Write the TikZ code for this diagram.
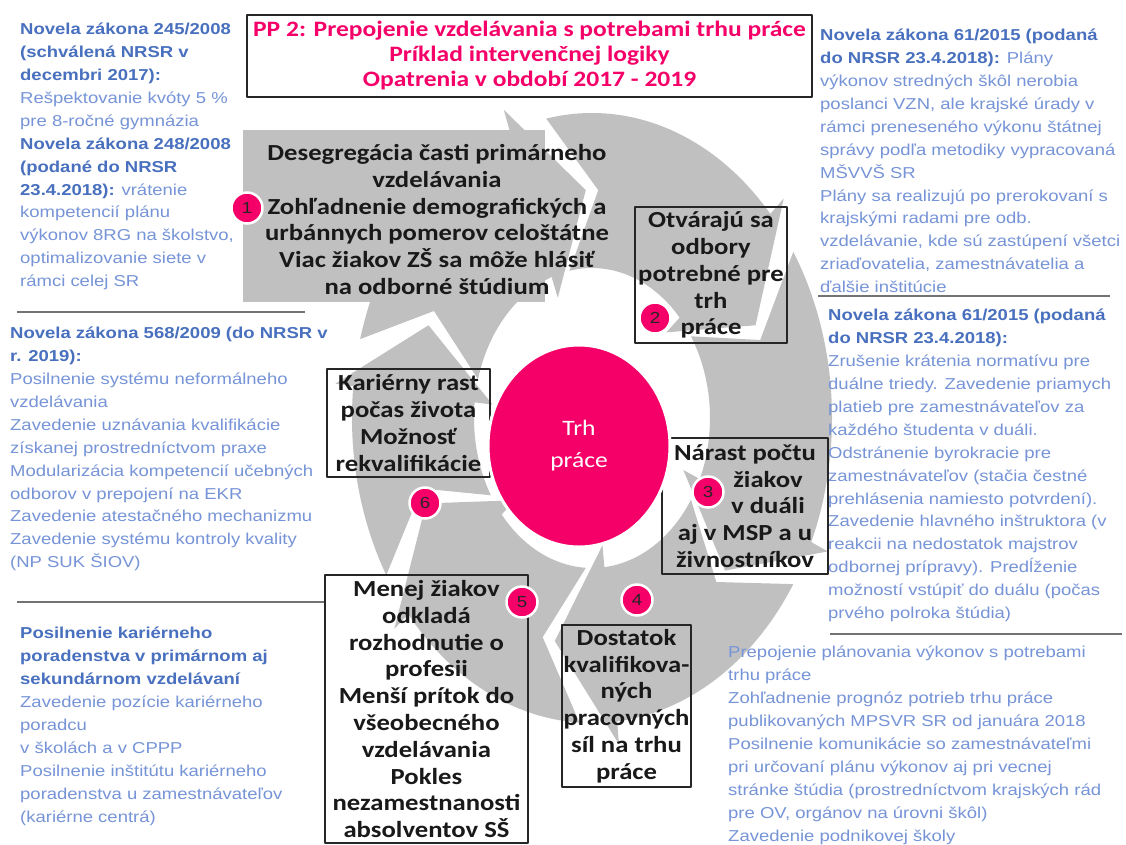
\documentclass[tikz,border=0pt]{standalone}
\usepackage{fontspec}
\setmainfont{Carlito}[FakeStretch=1.16]
\newfontfamily\arialfont{Liberation Sans}[FakeStretch=1.17]
\usetikzlibrary{shapes.geometric}

\definecolor{pinkred}{RGB}{245,0,105}
\definecolor{headblue}{RGB}{72,112,190}
\definecolor{bodyblue}{RGB}{118,148,215}
\definecolor{swirlgray}{RGB}{192,192,192}

\newcommand{\hd}[1]{{\bfseries\color{headblue}#1}}

\begin{document}
\begin{tikzpicture}[
    x = 1pt, y = -1pt,
    line join=round,
    swirlpart/.style = {fill=swirlgray},
    bigtext/.style = {inner sep=0pt, align=center, text=black!90, font=\fontsize{23}{26.8}\selectfont\bfseries},
    stepbox/.style = {bigtext, draw=black!85, line width=1.6pt},
    sidetext/.style = {anchor=north west, inner sep=0pt, align=left, text=bodyblue, font=\arialfont\fontsize{15.8}{22.9}\selectfont},
    numdot/.style = {circle, fill=pinkred, draw=white, line width=2.5pt, minimum size=31pt, inner sep=0pt, text=black!85, font=\arialfont\fontsize{16}{16}\selectfont},
    sepline/.style = {draw=black!55, line width=1.4pt}
]

    \useasboundingbox (0,0) rectangle (1126,844);
    \fill[white] (0,0) rectangle (1126,844);

    % six curved arrows round the market
    \begin{scope}[shift={(592,418)}]
        \foreach \a/\b in {-160/-96, -96/-28, -28/38, 38/98, 98/154, 154/200} {
            \fill[swirlpart] (\a-5:240 and 305)
                arc[start angle=\a-5, end angle=\b-14, x radius=240, y radius=305]
                -- (\b-14:258 and 328) -- (\b+4:179 and 228) -- (\b-14:100 and 128)
                -- (\b-14:118 and 150)
                arc[start angle=\b-14, end angle=\a-5, x radius=118, y radius=150]
                -- (\a+8:179 and 228) -- cycle;
        }
    \end{scope}
    \fill[swirlpart] (243,130) rectangle (545,302);

    \draw[sepline] (818,296) -- (1110,296);
    \draw[sepline] (17,312) -- (305,312);
    \draw[sepline] (17,602) -- (325,602);
    \draw[sepline] (830,634) -- (1122,634);

    % measures along the sides
    \node[sidetext] (lawtl) at (20,23) {\hd{Novela zákona 245/2008}\\ \hd{(schválená NRSR v}\\ \hd{decembri 2017):}\\
        Rešpektovanie kvóty 5 \%\\ pre 8-ročné gymnázia\\ \hd{Novela zákona 248/2008}\\ \hd{(podané do NRSR}\\
        \hd{23.4.2018):} vrátenie\\ kompetencií plánu\\ výkonov 8RG na školstvo,\\ optimalizovanie siete v\\ rámci celej SR};
    \node[sidetext] (lawtr) at (820,29) {\hd{Novela zákona 61/2015 (podaná}\\ \hd{do NRSR 23.4.2018):} Plány\\
        výkonov stredných škôl nerobia\\ poslanci VZN, ale krajské úrady v\\ rámci preneseného výkonu štátnej\\
        správy podľa metodiky vypracovaná\\ MŠVVŠ SR\\ Plány sa realizujú po prerokovaní s\\ krajskými radami pre odb.\\
        vzdelávanie, kde sú zastúpení všetci\\ zriaďovatelia, zamestnávatelia a\\ ďalšie inštitúcie};
    \node[sidetext] (lawrm) at (828,309) {\hd{Novela zákona 61/2015 (podaná}\\ \hd{do NRSR 23.4.2018):}\\
        Zrušenie krátenia normatívu pre\\ duálne triedy. Zavedenie priamych\\ platieb pre zamestnávateľov za\\
        každého študenta v duáli.\\ Odstránenie byrokracie pre\\ zamestnávateľov (stačia čestné\\
        prehlásenia namiesto potvrdení).\\ Zavedenie hlavného inštruktora (v\\ reakcii na nedostatok majstrov\\
        odbornej prípravy). Predĺženie\\ možností vstúpiť do duálu (počas\\ prvého polroka štúdia)};
    \node[sidetext] (lawlm) at (10,327) {\hd{Novela zákona 568/2009 (do NRSR v}\\ \hd{r. 2019):}\\
        Posilnenie systému neformálneho\\ vzdelávania\\ Zavedenie uznávania kvalifikácie\\ získanej prostredníctvom praxe\\
        Modularizácia kompetencií učebných\\ odborov v prepojení na EKR\\ Zavedenie atestačného mechanizmu\\
        Zavedenie systému kontroly kvality\\ (NP SUK ŠIOV)};
    \node[sidetext] (guidebl) at (20,627) {\hd{Posilnenie kariérneho}\\ \hd{poradenstva v primárnom aj}\\ \hd{sekundárnom vzdelávaní}\\
        Zavedenie pozície kariérneho\\ poradcu\\ v školách a v CPPP\\ Posilnenie inštitútu kariérneho\\
        poradenstva u zamestnávateľov\\ (kariérne centrá)};
    \node[sidetext] (planbr) at (728,646) {Prepojenie plánovania výkonov s potrebami\\ trhu práce\\
        Zohľadnenie prognóz potrieb trhu práce\\ publikovaných MPSVR SR od januára 2018\\
        Posilnenie komunikácie so zamestnávateľmi\\ pri určovaní plánu výkonov aj pri vecnej\\
        stránke štúdia (prostredníctvom krajských rád\\ pre OV, orgánov na úrovni škôl)\\ Zavedenie podnikovej školy};

    % steps of the cycle
    \node[bigtext] (desegr) at (437,219.5) {Desegregácia časti primárneho\\ vzdelávania\\ Zohľadnenie demografických a\\
        urbánnych pomerov celoštátne\\ Viac žiakov ZŠ sa môže hlásiť\\ na odborné štúdium};
    \node[stepbox, minimum width=152pt, minimum height=136pt] (fields) at (711,275) {Otvárajú sa\\ odbory\\ potrebné pre\\ trh\\ práce};
    \node[stepbox, minimum width=163pt, minimum height=108pt] (career) at (408.5,423) {Kariérny rast\\ počas života\\ Možnosť\\ rekvalifikácie};
    \node[stepbox, minimum width=166pt, minimum height=136pt] (dual) at (745,506) {Nárast počtu\\ \hspace*{46pt}žiakov\\ \hspace*{46pt}v duáli\\ aj v MSP a u\\ živnostníkov};
    \node[stepbox, minimum width=129pt, minimum height=162pt] (skilled) at (626.5,706) {Dostatok\\ kvalifikova-\\ ných\\ pracovných\\ síl na trhu\\ práce};
    \node[stepbox, minimum width=203pt, minimum height=268pt] (decide) at (426.5,709) {Menej žiakov\\ odkladá\\ rozhodnutie o\\ profesii\\
        Menší prítok do\\ všeobecného\\ vzdelávania\\ Pokles\\ nezamestnanosti\\ absolventov SŠ};

    \node[ellipse, fill=pinkred, draw=white, line width=3pt, minimum width=182pt, minimum height=202pt, inner sep=0pt,
        align=center, text=white, font=\fontsize{22}{32}\selectfont] (market) at (579,446) {Trh\\ práce};

    \node[numdot] (n1) at (247,208) {1};
    \node[numdot] (n2) at (655,318) {2};
    \node[numdot] (n3) at (708,492) {3};
    \node[numdot] (n4) at (637,600) {4};
    \node[numdot] (n5) at (522,602) {5};
    \node[numdot] (n6) at (425,503) {6};

    \node[draw=black!85, line width=1.6pt, fill=white, minimum width=565pt, minimum height=82pt, inner sep=0pt,
        align=center, text=pinkred, font=\fontsize{22}{25}\selectfont\bfseries] (title) at (529.5,56)
        {PP 2: Prepojenie vzdelávania s potrebami trhu práce\\ Príklad intervenčnej logiky\\ Opatrenia v období 2017 - 2019};

\end{tikzpicture}
\end{document}
